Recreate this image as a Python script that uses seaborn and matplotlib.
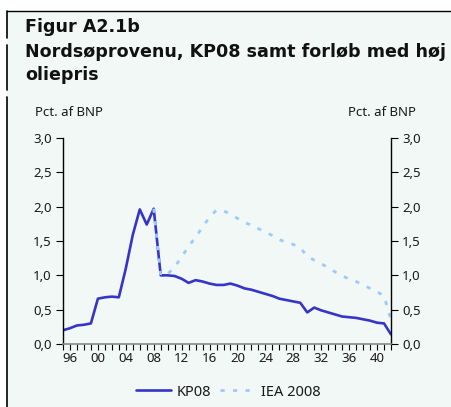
import matplotlib
matplotlib.use("Agg")
import matplotlib.pyplot as plt
import seaborn as sns
import pandas as pd
from matplotlib.lines import Line2D

sns.set_theme(style="white")
plt.rcParams['font.family'] = ['Noto Sans', 'DejaVu Sans']

years_kp = list(range(1995, 2043))
kp08 = [0.20, 0.23, 0.27, 0.28, 0.30, 0.66, 0.68, 0.69, 0.68, 1.10,
        1.59, 1.96, 1.74, 1.97, 1.00, 1.00, 0.99, 0.95, 0.89, 0.93,
        0.91, 0.88, 0.86, 0.86, 0.88, 0.85, 0.81, 0.79, 0.76, 0.73,
        0.70, 0.66, 0.64, 0.62, 0.60, 0.46, 0.53, 0.49, 0.46, 0.43,
        0.40, 0.39, 0.38, 0.36, 0.34, 0.31, 0.30, 0.14]

years_iea = list(range(2008, 2043))
iea = [1.97, 1.00, 1.02, 1.12, 1.27, 1.42, 1.56, 1.70, 1.85, 1.95,
       1.94, 1.89, 1.83, 1.77, 1.73, 1.68, 1.63, 1.58, 1.52, 1.48,
       1.45, 1.40, 1.28, 1.22, 1.17, 1.11, 1.05, 0.99, 0.95, 0.91,
       0.86, 0.81, 0.76, 0.70, 0.35]

series_names = ["KP08", "IEA 2008"]
y_ticks = [0.0, 0.5, 1.0, 1.5, 2.0, 2.5, 3.0]
y_tick_labels = ["0,0", "0,5", "1,0", "1,5", "2,0", "2,5", "3,0"]
x_label_years = list(range(1996, 2041, 4))
x_tick_labels = ["96", "00", "04", "08", "12", "16", "20", "24", "28", "32", "36", "40"]

title1 = "Figur A2.1b"
title2a = "Nordsøprovenu, KP08 samt forløb med høj"
title2b = "oliepris"
unit = "Pct. af BNP"

df_kp = pd.DataFrame({"year": years_kp, "value": kp08})
df_iea = pd.DataFrame({"year": years_iea, "value": iea})

bg = "#f1f8f6"
c_kp = "#3535c8"
c_iea = "#9ccaff"
txt = "#1a1a1a"

fig = plt.figure(figsize=(4.51, 4.07), dpi=100)
fig.patch.set_facecolor("white")

W, H = 451, 407
fig.patches.append(plt.Rectangle((7 / W, 0), 1, 1 - 11 / H, transform=fig.transFigure,
                                 facecolor=bg, edgecolor="none", zorder=-10))
fig.lines.append(Line2D([7 / W, 1], [1 - 11 / H, 1 - 11 / H], transform=fig.transFigure,
                        color="black", lw=1.0))
for y0, y1 in [(11, 38), (45, 90), (97, 407)]:
    fig.lines.append(Line2D([7.5 / W, 7.5 / W], [1 - y0 / H, 1 - y1 / H], transform=fig.transFigure,
                            color="black", lw=1.2))

ax = fig.add_axes([63 / W, 1 - 344 / H, (391 - 63) / W, (344 - 138) / H])
ax.set_facecolor(bg)

sns.lineplot(data=df_kp, x="year", y="value", ax=ax, color=c_kp, lw=1.9, label=series_names[0])
sns.lineplot(data=df_iea, x="year", y="value", ax=ax, color=c_iea, lw=2.0,
             dashes=False, label=series_names[1])
ax.lines[1].set_linestyle((0, (1.5, 3.0)))

ax.set_xlim(1995, 2042)
ax.set_ylim(0, 3.0)
ax.set_xlabel("")
ax.set_ylabel("")

ax.spines["top"].set_visible(False)
for s in ["left", "right"]:
    ax.spines[s].set_color("black")
    ax.spines[s].set_linewidth(1.0)
ax.spines["bottom"].set_color("#888888")
ax.spines["bottom"].set_linewidth(1.2)

ax.set_yticks(y_ticks)
ax.set_yticklabels(y_tick_labels)
ax.tick_params(axis="y", which="both", left=True, right=True, labelleft=True, labelright=True,
               direction="out", length=5, width=0.8, color="black", labelsize=9.5,
               labelcolor=txt, pad=3)
ax.set_xticks(years_kp, minor=True)
ax.set_xticks(x_label_years)
ax.set_xticklabels(x_tick_labels)
ax.tick_params(axis="x", which="major", bottom=True, direction="out", length=4, width=0.8,
               color="black", labelsize=9.5, labelcolor=txt, pad=2)
ax.tick_params(axis="x", which="minor", bottom=True, direction="out", length=4, width=0.8,
               color="black")

title_font = ['DejaVu Sans']
fig.text(25 / W, 1 - 27 / H, title1, fontsize=12.6, fontweight="bold", va="center", ha="left",
         color="#111111", family=title_font)
fig.text(25 / W, 1 - 52 / H, title2a, fontsize=12.6, fontweight="bold", va="center", ha="left",
         color="#111111", family=title_font)
fig.text(25 / W, 1 - 75 / H, title2b, fontsize=12.6, fontweight="bold", va="center", ha="left",
         color="#111111", family=title_font)
fig.text(35 / W, 1 - 113 / H, unit, fontsize=9.5, va="center", ha="left", color=txt)
fig.text(416 / W, 1 - 113 / H, unit, fontsize=9.5, va="center", ha="right", color=txt)

leg = ax.legend(loc="center", bbox_to_anchor=(228 / W, 1 - 392 / H), bbox_transform=fig.transFigure,
                ncol=2, frameon=False, fontsize=10.5, handlelength=2.4, columnspacing=0.6,
                handletextpad=0.4)
for t in leg.get_texts():
    t.set_color(txt)

fig.savefig("out.png", dpi=100, facecolor="white")
